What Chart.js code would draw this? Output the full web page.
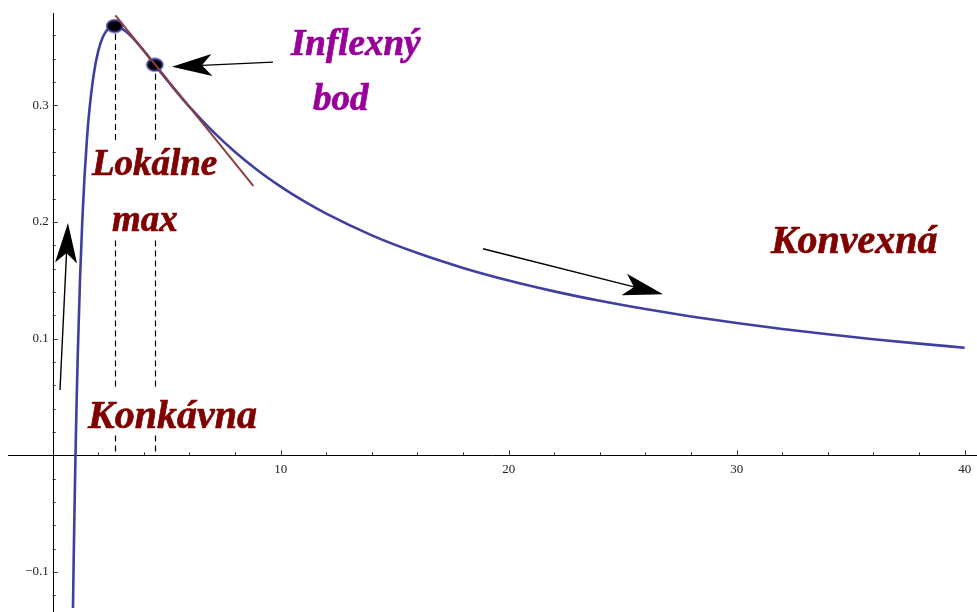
<!DOCTYPE html>
<html>
<head>
<meta charset="utf-8">
<script src="https://cdn.jsdelivr.net/npm/chart.js@4.4.1/dist/chart.umd.min.js"></script>
<style>
  html, body { margin: 0; padding: 0; background: #ffffff; }
  #wrap { width: 977px; height: 612px; }
</style>
</head>
<body>
<div id="wrap"><canvas id="c" width="977" height="612"></canvas></div>
<script>
// ---- data ----
const curveX = [0.89, 0.92, 0.95, 1.0, 1.05, 1.1, 1.2, 1.3, 1.4, 1.5, 1.6, 1.8, 2.0, 2.2, 2.4, 2.6, 2.718, 2.9, 3.2, 3.5, 4.0, 4.48, 5, 5.5, 6, 7, 8, 9, 10, 11, 12, 14, 16, 18, 20, 22, 24, 26, 28, 30, 32, 34, 36, 38, 40];
const curveY = [-0.1309, -0.0906, -0.0540, 0, 0.0465, 0.0866, 0.1519, 0.2018, 0.2403, 0.2703, 0.2938, 0.3265, 0.3466, 0.3584, 0.3648, 0.3675, 0.3679, 0.3671, 0.3635, 0.3579, 0.3466, 0.3347, 0.3219, 0.3100, 0.2986, 0.2780, 0.2599, 0.2441, 0.2303, 0.2180, 0.2071, 0.1885, 0.1733, 0.1606, 0.1498, 0.1405, 0.1324, 0.1253, 0.1190, 0.1134, 0.1083, 0.1037, 0.0995, 0.0957, 0.0922];
const markX = [2.718, 4.48];
const markY = [0.3679, 0.3347];
const tangentX = [2.75, 8.8];
const tangentY = [0.377, 0.231];
const xTickValues = [10, 20, 30, 40];
const xTickLabels = ['10', '20', '30', '40'];
const yTickValues = [-0.1, 0.1, 0.2, 0.3];
const yTickLabels = ['\u22120.1', '0.1', '0.2', '0.3'];
const labelTexts = ['Inflexný', 'bod', 'Lokálne', 'max', 'Konkávna', 'Konvexná'];

// ---- annotation layout (data coordinates) ----
const textSpecs = [
  { x: 10.45, y: 0.343, color: '#990099', size: 37 },
  { x: 11.42, y: 0.296, color: '#990099', size: 37 },
  { x: 1.72, y: 0.240, color: '#800000', size: 37 },
  { x: 2.60, y: 0.192, color: '#800000', size: 37 },
  { x: 1.55, y: 0.0234, color: '#800000', size: 40 },
  { x: 31.5, y: 0.1738, color: '#800000', size: 40 }
];
const arrowSpecs = [
  { x1: 9.66, y1: 0.337, x2: 5.23, y2: 0.333 },
  { x1: 0.32, y1: 0.056, x2: 0.67, y2: 0.199 },
  { x1: 18.87, y1: 0.177, x2: 26.77, y2: 0.138 }
];
const dashSpecs = [
  { x: 2.718, segs: [[0.361, 0.270], [0.184, 0.058], [0.017, 0]] },
  { x: 4.48, segs: [[0.327, 0.270], [0.184, 0.058], [0.017, 0]] }
];

const curveData = curveX.map((x, i) => ({ x: x, y: curveY[i] }));
const markData = markX.map((x, i) => ({ x: x, y: markY[i] }));
const tangentData = tangentX.map((x, i) => ({ x: x, y: tangentY[i] }));

// ellipse marker
const mk = document.createElement('canvas');
mk.width = 19; mk.height = 15;
(function () {
  const g = mk.getContext('2d');
  g.beginPath();
  g.ellipse(9.5, 7.5, 7.8, 6.0, 0, 0, Math.PI * 2);
  g.fillStyle = '#000000';
  g.fill();
  g.lineWidth = 1.8;
  g.strokeStyle = '#3f3fa0';
  g.stroke();
})();

const BLUE = '#3f3fa0';

const decor = {
  id: 'decor',
  beforeDatasetsDraw(chart) {
    const ctx = chart.ctx;
    const xs = chart.scales.x, ys = chart.scales.y;
    const x0 = xs.getPixelForValue(0), y0 = ys.getPixelForValue(0);
    ctx.save();
    ctx.strokeStyle = '#000000';
    ctx.lineWidth = 1;
    // axes
    ctx.beginPath();
    ctx.moveTo(xs.getPixelForValue(-1.96), Math.round(y0) + 0.5);
    ctx.lineTo(chart.width, Math.round(y0) + 0.5);
    ctx.moveTo(Math.round(x0) + 0.5, ys.getPixelForValue(0.379));
    ctx.lineTo(Math.round(x0) + 0.5, chart.height);
    ctx.stroke();
    // x ticks (every 2, major every 10)
    ctx.lineWidth = 0.8;
    ctx.beginPath();
    for (let v = 2; v <= 40; v += 2) {
      const px = Math.round(xs.getPixelForValue(v)) + 0.5;
      const len = (v % 10 === 0) ? 5 : 3;
      ctx.moveTo(px, y0);
      ctx.lineTo(px, y0 - len);
    }
    // y ticks (every 0.02, major every 0.1)
    for (let k = -6; k <= 18; k++) {
      if (k === 0) continue;
      const v = k * 0.02;
      const py = Math.round(ys.getPixelForValue(v)) + 0.5;
      const len = (k % 5 === 0) ? 5 : 3;
      ctx.moveTo(x0, py);
      ctx.lineTo(x0 + len, py);
    }
    ctx.stroke();
    // tick labels
    ctx.fillStyle = '#222222';
    ctx.font = '13px "Liberation Serif", "Times New Roman", serif';
    ctx.textAlign = 'center';
    ctx.textBaseline = 'middle';
    xTickValues.forEach((v, i) => {
      ctx.fillText(xTickLabels[i], xs.getPixelForValue(v), y0 + 14);
    });
    ctx.textAlign = 'right';
    yTickValues.forEach((v, i) => {
      ctx.fillText(yTickLabels[i], x0 - 4, ys.getPixelForValue(v));
    });
    // dashed drop lines
    ctx.strokeStyle = '#000000';
    ctx.lineWidth = 1.2;
    ctx.setLineDash([6, 4]);
    dashSpecs.forEach(d => {
      const px = Math.round(xs.getPixelForValue(d.x)) + 0.5;
      d.segs.forEach(s => {
        ctx.beginPath();
        ctx.moveTo(px, ys.getPixelForValue(s[0]));
        ctx.lineTo(px, ys.getPixelForValue(s[1]));
        ctx.stroke();
      });
    });
    ctx.restore();
  },
  afterDatasetsDraw(chart) {
    const ctx = chart.ctx;
    const xs = chart.scales.x, ys = chart.scales.y;
    ctx.save();
    // arrows
    arrowSpecs.forEach(a => {
      const tx = xs.getPixelForValue(a.x1), ty = ys.getPixelForValue(a.y1);
      const hx = xs.getPixelForValue(a.x2), hy = ys.getPixelForValue(a.y2);
      const dx = hx - tx, dy = hy - ty;
      const L = Math.hypot(dx, dy);
      const ux = dx / L, uy = dy / L;
      const nx = -uy, ny = ux;
      const headLen = 40, half = 11, notch = 30;
      ctx.strokeStyle = '#000000';
      ctx.lineWidth = 1.4;
      ctx.beginPath();
      ctx.moveTo(tx, ty);
      ctx.lineTo(hx - ux * notch, hy - uy * notch);
      ctx.stroke();
      ctx.fillStyle = '#000000';
      ctx.beginPath();
      ctx.moveTo(hx, hy);
      ctx.lineTo(hx - ux * headLen + nx * half, hy - uy * headLen + ny * half);
      ctx.lineTo(hx - ux * notch, hy - uy * notch);
      ctx.lineTo(hx - ux * headLen - nx * half, hy - uy * headLen - ny * half);
      ctx.closePath();
      ctx.fill();
    });
    // labels
    ctx.textAlign = 'left';
    ctx.textBaseline = 'alphabetic';
    ctx.lineJoin = 'round';
    textSpecs.forEach((t, i) => {
      ctx.fillStyle = t.color;
      ctx.strokeStyle = t.color;
      ctx.lineWidth = 0.7;
      ctx.font = 'italic bold ' + t.size + 'px "Liberation Serif", "Times New Roman", serif';
      const px = xs.getPixelForValue(t.x), py = ys.getPixelForValue(t.y);
      ctx.fillText(labelTexts[i], px, py);
      ctx.strokeText(labelTexts[i], px, py);
    });
    ctx.restore();
  }
};

new Chart(document.getElementById('c'), {
  type: 'scatter',
  data: {
    datasets: [
      {
        label: 'tangent',
        data: tangentData,
        showLine: true,
        borderColor: '#8b4040',
        borderWidth: 2,
        pointRadius: 0,
        fill: false,
        order: 0
      },
      {
        label: 'points',
        data: markData,
        showLine: false,
        pointStyle: mk,
        pointRadius: 7,
        order: 1
      },
      {
        label: 'ln(x)/x',
        data: curveData,
        showLine: true,
        borderColor: BLUE,
        borderWidth: 2.6,
        pointRadius: 0,
        cubicInterpolationMode: 'monotone',
        fill: false,
        order: 2
      }
    ]
  },
  plugins: [decor],
  options: {
    responsive: false,
    animation: false,
    layout: { padding: 0, autoPadding: false },
    plugins: { legend: { display: false }, tooltip: { enabled: false } },
    scales: {
      x: { type: 'linear', min: -2.311, max: 40.54, display: false },
      y: { type: 'linear', min: -0.1343, max: 0.3902, display: false }
    }
  }
});
</script>
</body>
</html>
